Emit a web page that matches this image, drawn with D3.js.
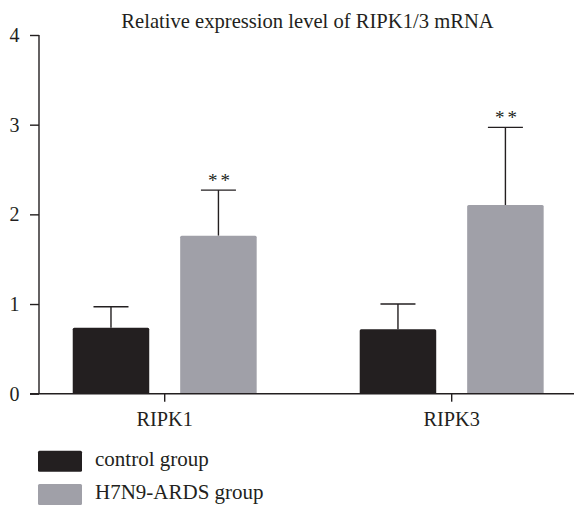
<!DOCTYPE html>
<html>
<head>
<meta charset="utf-8">
<script src="https://cdn.jsdelivr.net/npm/d3@7"></script>
<style>
  body { margin: 0; background: #fff; }
  text { font-family: "Liberation Serif", "Times New Roman", serif; fill: #231f20; }
</style>
</head>
<body>
<script>
//chart data
var genes = ["RIPK1", "RIPK3"];
var groups = ["control group", "H7N9-ARDS group"];
var meanValues = [[0.736, 1.762], [0.718, 2.104]]; //per gene: control, H7N9
var errorTops = [[0.97, 2.27], [1.0, 2.97]];       //upper end of error bars
var signif = [["", "**"], ["", "**"]];
var yTicks = [0, 1, 2, 3, 4];
var title = "Relative expression level of RIPK1/3 mRNA";

var colors = ["#231f20", "#a0a0a8"];

//frame
var width = 574, height = 507;

var svg = d3.select("body")
    .append("svg")
    .attr("width", width)
    .attr("height", height);

//scales
var y = d3.scaleLinear()
    .domain([0, 4])
    .range([393.7, 35]);

var x0 = d3.scaleBand()
    .domain(genes)
    .range([42.6, 573.8])
    .paddingInner(0.359)
    .paddingOuter(0.105);

var x1 = d3.scaleBand()
    .domain(groups)
    .range([0, x0.bandwidth()])
    .paddingInner(0.288);

//title
svg.append("text")
    .attr("x", 307.5)
    .attr("y", 27.7)
    .attr("text-anchor", "middle")
    .style("font-size", "20.6px")
    .text(title);

//bars
var geneG = svg.selectAll(".gene")
    .data(genes)
    .enter()
    .append("g")
    .attr("class", "gene")
    .attr("transform", function(d){ return "translate(" + x0(d) + ",0)"; });

geneG.each(function(gene, gi){
    var g = d3.select(this);
    groups.forEach(function(grp, j){
        var bx = x1(grp), bw = x1.bandwidth(), cx = bx + bw / 2;
        var v = meanValues[gi][j], e = errorTops[gi][j];

        //error bar (upper only)
        g.append("line")
            .attr("x1", cx).attr("x2", cx)
            .attr("y1", y(v)).attr("y2", y(e))
            .attr("stroke", "#231f20")
            .attr("stroke-width", 1.4);
        g.append("line")
            .attr("x1", cx - 17.5).attr("x2", cx + 17.5)
            .attr("y1", y(e)).attr("y2", y(e))
            .attr("stroke", "#231f20")
            .attr("stroke-width", 1.4);

        g.append("rect")
            .attr("x", bx)
            .attr("y", y(v))
            .attr("width", bw)
            .attr("height", y(0) - y(v))
            .attr("rx", 1.5)
            .attr("fill", colors[j]);

        if (signif[gi][j]){
            g.append("text")
                .attr("x", cx + 2)
                .attr("y", y(e) - 3)
                .attr("text-anchor", "middle")
                .style("font-size", "19px")
                .style("letter-spacing", "3px")
                .text(signif[gi][j]);
        }
    });
});

//y axis
var yAxis = svg.append("g")
    .attr("transform", "translate(39,0)")
    .call(d3.axisLeft(y).tickValues(yTicks).tickSize(9).tickPadding(10.5).tickFormat(d3.format("d")));
yAxis.select(".domain").attr("d", "M0," + y(4) + "V" + y(0));
yAxis.selectAll("line, path").attr("stroke", "#231f20").attr("stroke-width", 1.4);
yAxis.selectAll("text")
    .style("font-size", "20px")
    .style("font-family", "Liberation Serif, serif")
    .attr("fill", "#231f20");

//x axis
var xAxis = svg.append("g")
    .attr("transform", "translate(0," + y(0) + ")")
    .call(d3.axisBottom(x0).tickSize(8));
xAxis.select(".domain").attr("d", "M30,0H574");
xAxis.selectAll("line, path").attr("stroke", "#231f20").attr("stroke-width", 1.4);
xAxis.selectAll("text")
    .attr("y", 32)
    .attr("dy", 0)
    .style("font-size", "20.3px")
    .style("font-family", "Liberation Serif, serif")
    .attr("fill", "#231f20");

//legend
var legend = svg.selectAll(".legend")
    .data(groups)
    .enter()
    .append("g")
    .attr("class", "legend")
    .attr("transform", function(d, i){ return "translate(38," + (450.7 + i * 33.3) + ")"; });

legend.append("rect")
    .attr("width", 44)
    .attr("height", 21)
    .attr("rx", 1.5)
    .attr("fill", function(d, i){ return colors[i]; });

legend.append("text")
    .attr("x", 57)
    .attr("y", 15)
    .style("font-size", "21px")
    .text(function(d){ return d; });
</script>
</body>
</html>
